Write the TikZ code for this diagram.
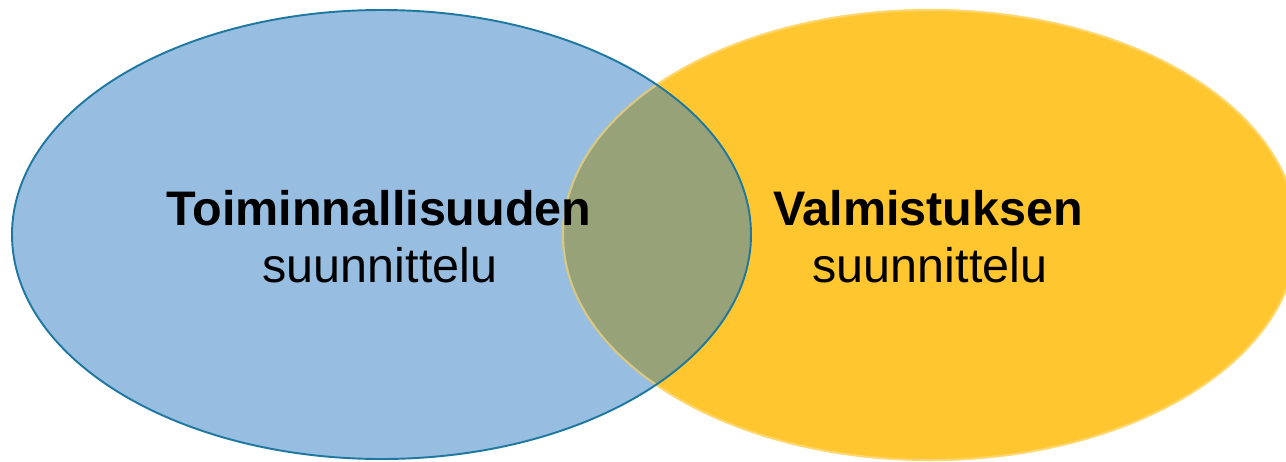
\documentclass[tikz,border=0pt]{standalone}
\usepackage{fontspec}
\setmainfont{Liberation Sans}
\definecolor{sininen}{RGB}{151,189,225}
\definecolor{sinireuna}{RGB}{30,120,160}
\definecolor{keltainen}{RGB}{255,198,47}
\definecolor{keltareuna}{RGB}{255,226,150}
\definecolor{oliivi}{RGB}{152,162,120}
\begin{document}
\begin{tikzpicture}[x=0.02cm, y=-0.02cm]
\tikzset{paksu/.style={font=\fontsize{27.6}{33}\selectfont\bfseries, anchor=base, inner sep=0pt}}
\tikzset{ohut/.style={font=\fontsize{27.6}{33}\selectfont, anchor=base, inner sep=0pt}}
\useasboundingbox (0,0) rectangle (1286,461);
\clip (0,0) rectangle (1286,461);
\fill[sininen] (381.5,234.5) ellipse [x radius=369.5, y radius=224.5];
\fill[keltainen] (930,235) ellipse [x radius=368, y radius=226];
\begin{scope}
\clip (381.5,234.5) ellipse [x radius=369.5, y radius=224.5];
\fill[oliivi] (930,235) ellipse [x radius=368, y radius=226];
\end{scope}
\draw[keltareuna, opacity=0.6, line width=1.2pt] (930,235) ellipse [x radius=367, y radius=225];
\draw[sinireuna, line width=1.1pt] (381.5,234.5) ellipse [x radius=369.5, y radius=224.5];
\node[paksu] (T1) at (379,225) {Toiminnallisuuden};
\node[ohut] (T2) at (380,282) {suunnittelu};
\node[paksu] (V1) at (928,225) {Valmistuksen};
\node[ohut] (V2) at (930,282) {suunnittelu};
\end{tikzpicture}
\end{document}
